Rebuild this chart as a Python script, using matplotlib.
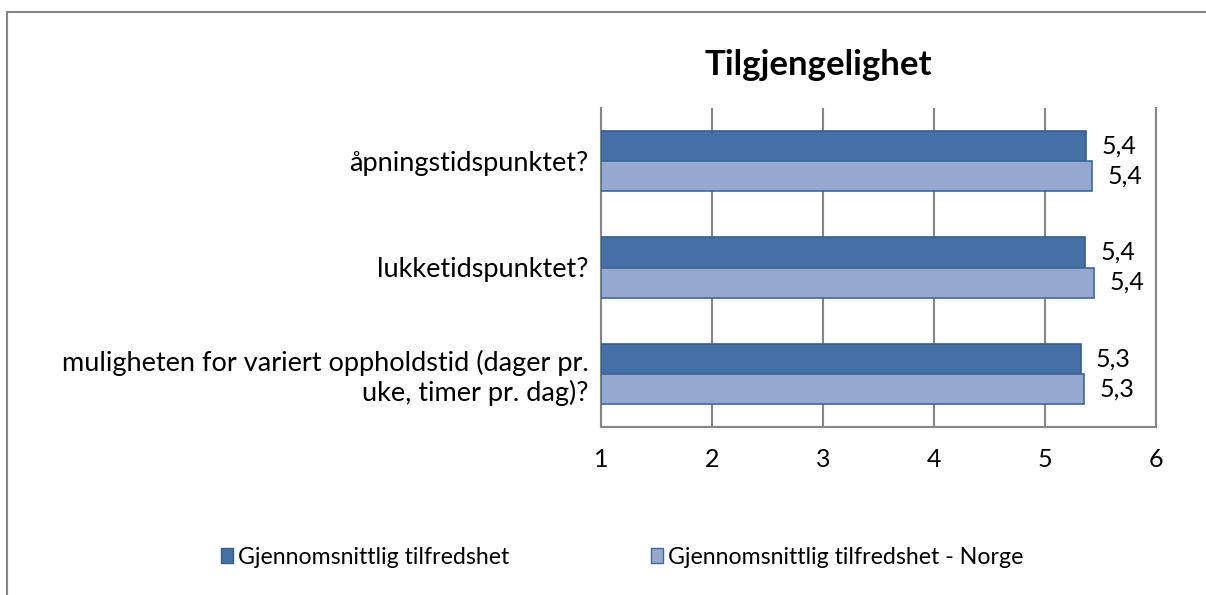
import matplotlib
matplotlib.use("Agg")
import matplotlib.pyplot as plt
from matplotlib.patches import Patch
from matplotlib.lines import Line2D
import numpy as np

plt.rcParams['font.family'] = ['Lato', 'DejaVu Sans']

categories = ["åpningstidspunktet?", "lukketidspunktet?",
              "muligheten for variert oppholdstid (dager pr.\nuke, timer pr. dag)?"]
series_names = ["Gjennomsnittlig tilfredshet", "Gjennomsnittlig tilfredshet - Norge"]
values_local = [5.37, 5.36, 5.32]
values_norway = [5.42, 5.44, 5.35]
labels_local = ["5,4", "5,4", "5,3"]
labels_norway = ["5,4", "5,4", "5,3"]
xticks = [1, 2, 3, 4, 5, 6]
title = "Tilgjengelighet"

dark = "#4470A5"
dark_edge = "#385D8A"
light = "#95A9D0"
light_edge = "#3F6799"
grid_col = "#868686"

fig = plt.figure(figsize=(12.06, 5.95), dpi=100)
ax = fig.add_axes([601/1206, 1-427/595, (1156-601)/1206, (427-108)/595])

y = np.arange(len(categories))
h = 0.283
ax.barh(y - h/2, np.array(values_local) - 1, left=1, height=h, color=dark,
        edgecolor=dark_edge, linewidth=1.2, zorder=3)
ax.barh(y + h/2, np.array(values_norway) - 1, left=1, height=h, color=light,
        edgecolor=light_edge, linewidth=1.2, zorder=3)

for i in range(len(categories)):
    ax.text(values_local[i] + 0.14, y[i] - h/2, labels_local[i], va='center', ha='left',
            fontsize=18, color='black')
    ax.text(values_norway[i] + 0.14, y[i] + h/2, labels_norway[i], va='center', ha='left',
            fontsize=18, color='black')

ax.set_xlim(1, 6)
ax.set_ylim(len(categories) - 0.5, -0.5)
ax.set_xticks(xticks)
ax.set_xticklabels([str(t) for t in xticks], fontsize=18)
ax.set_yticks(y)
ax.set_yticklabels(categories, fontsize=19.5, ha='right', multialignment='right',
                   linespacing=1.15)
ax.tick_params(axis='both', length=0)
ax.tick_params(axis='x', pad=15)
ax.tick_params(axis='y', pad=9)
ax.xaxis.grid(True, color=grid_col, linewidth=1.5, zorder=0)
ax.set_axisbelow(True)
for s in ['top']:
    ax.spines[s].set_visible(False)
for s in ['left', 'bottom', 'right']:
    ax.spines[s].set_color(grid_col)
    ax.spines[s].set_linewidth(1.5)

fig.text(818/1206, 1-65/595, title, ha='center', va='center', fontsize=25, fontweight='bold')

handles = [Patch(facecolor=dark, edgecolor=dark_edge), Patch(facecolor=light, edgecolor=light_edge)]
fig.legend(handles, series_names, loc='center', bbox_to_anchor=(622/1206, 1-557/595), ncol=2,
           frameon=False, fontsize=16.7, handlelength=0.55, handleheight=0.6, handletextpad=0.2,
           columnspacing=6.1, borderpad=0, borderaxespad=0)

# outer chart border (top and left visible)
fig.add_artist(Line2D([7/1206, 1], [1-12/595, 1-12/595], color=grid_col, linewidth=1.5,
                      transform=fig.transFigure))
fig.add_artist(Line2D([7/1206, 7/1206], [0, 1-12/595], color=grid_col, linewidth=1.5,
                      transform=fig.transFigure))

fig.savefig("out.png", dpi=100)
